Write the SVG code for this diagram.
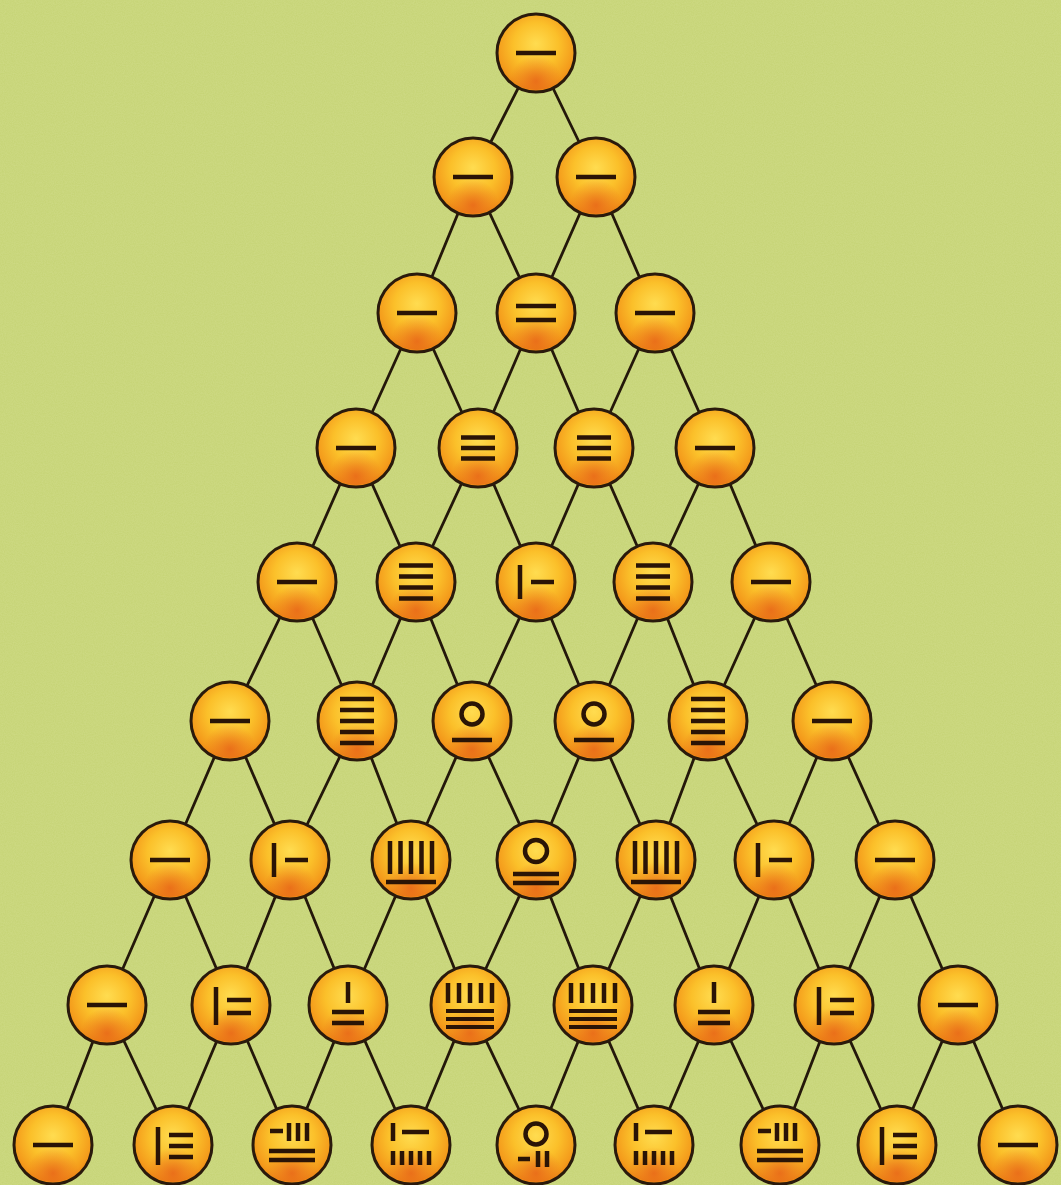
<svg xmlns="http://www.w3.org/2000/svg" xmlns:xlink="http://www.w3.org/1999/xlink" width="1061" height="1185" viewBox="0 0 1061 1185">
<style>
.bg{fill:#c5d374}
.edge{stroke:#24180a;stroke-width:2.8;fill:none}
.ball{fill:url(#ballGrad);stroke:#2a1a0c;stroke-width:3}
.rod{stroke:#2a1406;stroke-width:4.5;fill:none;stroke-linecap:butt}
.thin{stroke-width:3.8}
</style>
<defs>
<radialGradient id="ballGrad" cx="50%" cy="42%" r="58%" fx="50%" fy="38%">
<stop offset="0" stop-color="#ffdc50"/>
<stop offset="0.5" stop-color="#fbc02a"/>
<stop offset="0.85" stop-color="#f49c1c"/>
<stop offset="1" stop-color="#ec8614"/>
</radialGradient>
<radialGradient id="spot" cx="50%" cy="88%" r="35%">
<stop offset="0" stop-color="#e65e18" stop-opacity="0.75"/>
<stop offset="1" stop-color="#e65e18" stop-opacity="0"/>
</radialGradient>
<filter id="noise" x="0" y="0" width="100%" height="100%">
<feTurbulence type="fractalNoise" baseFrequency="0.9" numOctaves="2" seed="3"/>
<feColorMatrix type="matrix" values="0 0 0 0 0.9  0 0 0 0 0.93  0 0 0 0 0.6  0 0 0 0.2 0"/>
</filter>
<g id="ball"><circle r="39" class="ball"/><circle r="37" fill="url(#spot)"/></g>
<g id="g1"><path class="rod" d="M-20 0H20"/></g>
<g id="g2"><path class="rod" d="M-20 -7H20M-20 7H20"/></g>
<g id="g3"><path class="rod" d="M-17 -10.5H17M-17 0H17M-17 10.5H17"/></g>
<g id="g4"><path class="rod" d="M-17 -16.5H17M-17 -5.5H17M-17 5.5H17M-17 16.5H17"/></g>
<g id="g5"><path class="rod" d="M-17 -22H17M-17 -11H17M-17 0H17M-17 11H17M-17 22H17"/></g>
<g id="g6"><path class="rod" d="M-16 -17V17M-5 0H18"/></g>
<g id="g7"><path class="rod" d="M-15 -18V20M-4 -5H20M-4 8H20"/></g>
<g id="g8"><path class="rod" d="M-15 -18V20M-4 -10H20M-4 1H20M-4 12H20"/></g>
<g id="g10"><circle class="rod" cx="0" cy="-7" r="10.5"/><path class="rod" d="M-20 19H20"/></g>
<g id="g15"><path class="rod" d="M-21 -19V14M-10.5 -19V14M0 -19V14M10.5 -19V14M21 -19V14M-25 22H25"/></g>
<g id="g20"><circle class="rod" cx="0" cy="-9" r="11"/><path class="rod" d="M-23 14H23M-23 23H23"/></g>
<g id="g21"><path class="rod" d="M0 -23V-2M-16 7H16M-16 18H16"/></g>
<g id="g35"><path class="rod" d="M-22 -22V-2M-11 -22V-2M0 -22V-2M11 -22V-2M22 -22V-2"/><path class="rod thin" d="M-24 6H24M-24 14H24M-24 22H24"/></g>
<g id="g28"><path class="rod" d="M-22 -14H-9M-3 -22V-4M6 -22V-4M15 -22V-4M-23 6H23M-23 15H23"/></g>
<g id="g56"><path class="rod" d="M-18 -22V-4M-9 -13H18M-18 6V20M-9 6V20M0 6V20M9 6V20M18 6V20"/></g>
<g id="g70"><circle class="rod" cx="0" cy="-11" r="10.5"/><path class="rod" d="M-18 14H-6M2 6V22M11 6V22"/></g>
</defs>
<rect class="bg" x="0" y="0" width="1061" height="1185"/>
<rect x="0" y="0" width="1061" height="1185" filter="url(#noise)"/>
<g id="connectors">
<path class="edge" d="M536 53L473 177M536 53L596 177
M473 177L417 313M473 177L536 313M596 177L536 313M596 177L655 313
M417 313L356 448M417 313L478 448M536 313L478 448M536 313L594 448M655 313L594 448M655 313L715 448
M356 448L297 582M356 448L416 582M478 448L416 582M478 448L536 582M594 448L536 582M594 448L653 582M715 448L653 582M715 448L771 582
M297 582L230 721M297 582L357 721M416 582L357 721M416 582L472 721M536 582L472 721M536 582L594 721M653 582L594 721M653 582L708 721M771 582L708 721M771 582L832 721
M230 721L170 860M230 721L290 860M357 721L290 860M357 721L411 860M472 721L411 860M472 721L536 860M594 721L536 860M594 721L656 860M708 721L656 860M708 721L774 860M832 721L774 860M832 721L895 860
M170 860L107 1005M170 860L232 1005M290 860L232 1005M290 860L349 1005M411 860L349 1005M411 860L469 1005M536 860L469 1005M536 860L593 1005M656 860L593 1005M656 860L714 1005M774 860L714 1005M774 860L834 1005M895 860L834 1005M895 860L958 1005
M107 1005L53 1145M107 1005L173 1145M232 1005L173 1145M232 1005L292 1145M349 1005L292 1145M349 1005L411 1145M469 1005L411 1145M469 1005L536 1145M593 1005L536 1145M593 1005L654 1145M714 1005L654 1145M714 1005L780 1145M834 1005L780 1145M834 1005L897 1145M958 1005L897 1145M958 1005L1018 1145"/>
</g>
<g id="n0-0" transform="translate(536 53)"><use href="#ball"/><use href="#g1"/></g>
<g id="n1-0" transform="translate(473 177)"><use href="#ball"/><use href="#g1"/></g>
<g id="n1-1" transform="translate(596 177)"><use href="#ball"/><use href="#g1"/></g>
<g id="n2-0" transform="translate(417 313)"><use href="#ball"/><use href="#g1"/></g>
<g id="n2-1" transform="translate(536 313)"><use href="#ball"/><use href="#g2"/></g>
<g id="n2-2" transform="translate(655 313)"><use href="#ball"/><use href="#g1"/></g>
<g id="n3-0" transform="translate(356 448)"><use href="#ball"/><use href="#g1"/></g>
<g id="n3-1" transform="translate(478 448)"><use href="#ball"/><use href="#g3"/></g>
<g id="n3-2" transform="translate(594 448)"><use href="#ball"/><use href="#g3"/></g>
<g id="n3-3" transform="translate(715 448)"><use href="#ball"/><use href="#g1"/></g>
<g id="n4-0" transform="translate(297 582)"><use href="#ball"/><use href="#g1"/></g>
<g id="n4-1" transform="translate(416 582)"><use href="#ball"/><use href="#g4"/></g>
<g id="n4-2" transform="translate(536 582)"><use href="#ball"/><use href="#g6"/></g>
<g id="n4-3" transform="translate(653 582)"><use href="#ball"/><use href="#g4"/></g>
<g id="n4-4" transform="translate(771 582)"><use href="#ball"/><use href="#g1"/></g>
<g id="n5-0" transform="translate(230 721)"><use href="#ball"/><use href="#g1"/></g>
<g id="n5-1" transform="translate(357 721)"><use href="#ball"/><use href="#g5"/></g>
<g id="n5-2" transform="translate(472 721)"><use href="#ball"/><use href="#g10"/></g>
<g id="n5-3" transform="translate(594 721)"><use href="#ball"/><use href="#g10"/></g>
<g id="n5-4" transform="translate(708 721)"><use href="#ball"/><use href="#g5"/></g>
<g id="n5-5" transform="translate(832 721)"><use href="#ball"/><use href="#g1"/></g>
<g id="n6-0" transform="translate(170 860)"><use href="#ball"/><use href="#g1"/></g>
<g id="n6-1" transform="translate(290 860)"><use href="#ball"/><use href="#g6"/></g>
<g id="n6-2" transform="translate(411 860)"><use href="#ball"/><use href="#g15"/></g>
<g id="n6-3" transform="translate(536 860)"><use href="#ball"/><use href="#g20"/></g>
<g id="n6-4" transform="translate(656 860)"><use href="#ball"/><use href="#g15"/></g>
<g id="n6-5" transform="translate(774 860)"><use href="#ball"/><use href="#g6"/></g>
<g id="n6-6" transform="translate(895 860)"><use href="#ball"/><use href="#g1"/></g>
<g id="n7-0" transform="translate(107 1005)"><use href="#ball"/><use href="#g1"/></g>
<g id="n7-1" transform="translate(231 1005)"><use href="#ball"/><use href="#g7"/></g>
<g id="n7-2" transform="translate(348 1005)"><use href="#ball"/><use href="#g21"/></g>
<g id="n7-3" transform="translate(470 1005)"><use href="#ball"/><use href="#g35"/></g>
<g id="n7-4" transform="translate(593 1005)"><use href="#ball"/><use href="#g35"/></g>
<g id="n7-5" transform="translate(714 1005)"><use href="#ball"/><use href="#g21"/></g>
<g id="n7-6" transform="translate(834 1005)"><use href="#ball"/><use href="#g7"/></g>
<g id="n7-7" transform="translate(958 1005)"><use href="#ball"/><use href="#g1"/></g>
<g id="n8-0" transform="translate(53 1145)"><use href="#ball"/><use href="#g1"/></g>
<g id="n8-1" transform="translate(173 1145)"><use href="#ball"/><use href="#g8"/></g>
<g id="n8-2" transform="translate(292 1145)"><use href="#ball"/><use href="#g28"/></g>
<g id="n8-3" transform="translate(411 1145)"><use href="#ball"/><use href="#g56"/></g>
<g id="n8-4" transform="translate(536 1145)"><use href="#ball"/><use href="#g70"/></g>
<g id="n8-5" transform="translate(654 1145)"><use href="#ball"/><use href="#g56"/></g>
<g id="n8-6" transform="translate(780 1145)"><use href="#ball"/><use href="#g28"/></g>
<g id="n8-7" transform="translate(897 1145)"><use href="#ball"/><use href="#g8"/></g>
<g id="n8-8" transform="translate(1018 1145)"><use href="#ball"/><use href="#g1"/></g>
</svg>
